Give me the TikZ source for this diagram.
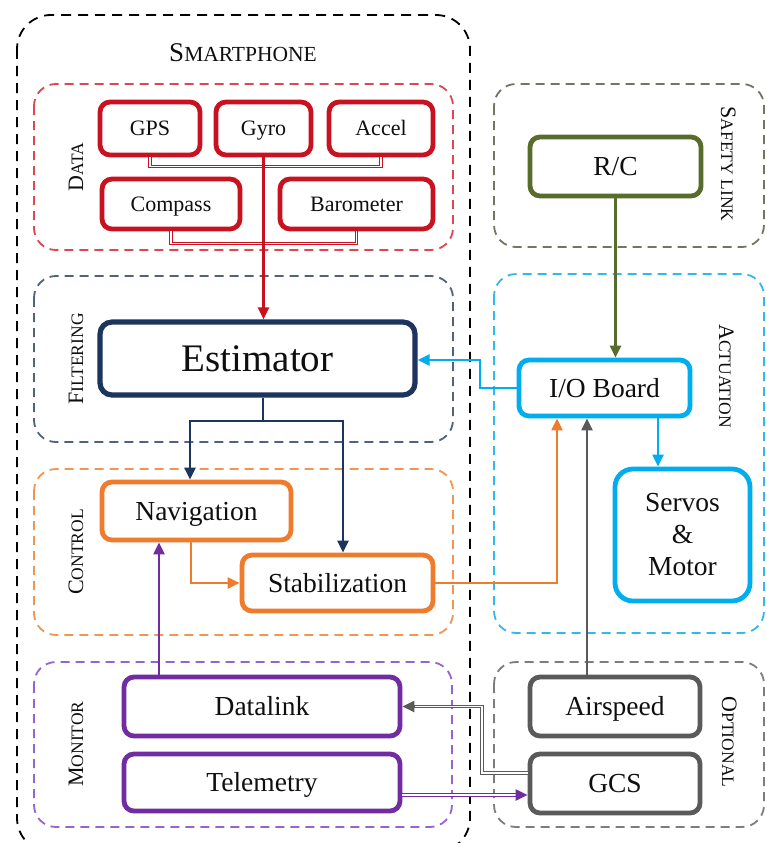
\documentclass[tikz,border=0pt]{standalone}
\usepackage{fontspec}
\setmainfont{Liberation Serif}
\usetikzlibrary{arrows.meta}

\definecolor{datared}{RGB}{200,18,32}
\definecolor{datadash}{RGB}{222,70,80}
\definecolor{estnavy}{RGB}{28,52,94}
\definecolor{filtdash}{RGB}{80,98,125}
\definecolor{ctrlorange}{RGB}{238,124,44}
\definecolor{ctrldash}{RGB}{240,150,80}
\definecolor{monpurple}{RGB}{112,44,160}
\definecolor{mondash}{RGB}{150,100,205}
\definecolor{rcgreen}{RGB}{88,108,44}
\definecolor{safedash}{RGB}{112,118,100}
\definecolor{actblue}{RGB}{0,174,239}
\definecolor{actdash}{RGB}{50,185,235}
\definecolor{optgray}{RGB}{90,90,90}
\definecolor{optdash}{RGB}{125,125,125}
\definecolor{inktext}{RGB}{15,15,15}

% faked small capitals: large initial, smaller remaining capitals
\newcommand\fakesc[2]{{\fontsize{22}{22}\selectfont #1}{\fontsize{17.5}{18}\selectfont #2}}

\tikzset{
  blockbox/.style={draw, rounded corners=10pt, line width=4.8pt, align=center,
    inner sep=0pt, text=inktext, font=\fontsize{27.5}{32}\selectfont},
  % single-line boxes: box height follows the capitals only, so text sits centred
  oneline/.style={text height=18.4pt, text depth=0pt},
  databox/.style={blockbox, draw=datared, font=\fontsize{22}{24}\selectfont,
    text height=14.6pt, text depth=0pt},
  group/.style={line width=1.8pt, rounded corners=22pt, dash pattern=on 9pt off 6pt},
  wire/.style={line width=2.2pt, -{Triangle[length=12pt,width=11pt]}},
  plainwire/.style={line width=2.2pt},
  hollowwire/.style={line width=1pt, double=white, double distance=1.3pt},
  grouplabel/.style={anchor=base, text=inktext, inner sep=0pt},
}

\begin{document}
\begin{tikzpicture}[x=1pt, y=-1pt]
\useasboundingbox (0,0) rectangle (767,843);
\clip (0,0) rectangle (767,843);
\fill[white] (0,0) rectangle (767,843);

% ---------- dashed groups ----------
\draw[group, draw=black, rounded corners=34pt, dash pattern=on 10pt off 7pt] (17,15) rectangle (470,852);
\draw[group, draw=datadash] (34,84) rectangle (453,250);
\draw[group, draw=filtdash] (34,276) rectangle (453,442);
\draw[group, draw=ctrldash] (34,469) rectangle (453,635);
\draw[group, draw=mondash] (34,662) rectangle (452,827);
\draw[group, draw=safedash] (494,84) rectangle (764,247);
\draw[group, draw=actdash] (494,274) rectangle (764,633);
\draw[group, draw=optdash] (494,662) rectangle (764,827);

% ---------- group labels ----------
\node[grouplabel] (lblphone) at (243,62)
  {{\fontsize{27}{27}\selectfont S}{\fontsize{21.5}{22}\selectfont MARTPHONE}};
\node[grouplabel, rotate=90] (lbldata) at (83,167) {\fakesc{D}{ATA}};
\node[grouplabel, rotate=90] (lblfilt) at (83,359) {\fakesc{F}{ILTERING}};
\node[grouplabel, rotate=90] (lblctrl) at (83,552) {\fakesc{C}{ONTROL}};
\node[grouplabel, rotate=90] (lblmon) at (83,744) {\fakesc{M}{ONITOR}};
\node[grouplabel, rotate=-90] (lblsafe) at (721,164) {\fakesc{S}{AFETY L}\fakesc{}{INK}};
\node[grouplabel, rotate=-90] (lblact) at (719,376) {\fakesc{A}{CTUATION}};
\node[grouplabel, rotate=-90] (lblopt) at (722,742) {\fakesc{O}{PTIONAL}};

% ---------- sensor data ----------
\node[databox, minimum width=100pt, minimum height=53pt] (gps) at (150,128.5) {GPS};
\node[databox, minimum width=95pt, minimum height=53pt] (gyro) at (263.5,128.5) {Gyro};
\node[databox, minimum width=104pt, minimum height=53pt] (accel) at (381,128.5) {Accel};
\node[databox, minimum width=138pt, minimum height=50pt] (compass) at (171,204) {Compass};
\node[databox, minimum width=153pt, minimum height=50pt] (baro) at (356.5,204) {Barometer};

% ---------- processing blocks ----------
\node[blockbox, draw=estnavy, line width=5.2pt, rounded corners=12pt,
  minimum width=315pt, minimum height=73pt, font=\fontsize{39}{42}\selectfont,
  text height=26pt, text depth=0pt]
  (est) at (257.5,358.5) {Estimator};
\node[blockbox, oneline, draw=ctrlorange, minimum width=189pt, minimum height=58pt] (nav) at (196.5,511) {Navigation};
\node[blockbox, oneline, draw=ctrlorange, minimum width=191pt, minimum height=56pt] (stab) at (337.5,583) {Stabilization};
\node[blockbox, oneline, draw=monpurple, minimum width=276pt, minimum height=59pt] (dl) at (262,706.5) {Datalink};
\node[blockbox, oneline, draw=monpurple, minimum width=276pt, minimum height=57pt] (tel) at (262,782.5) {Telemetry};

% ---------- right-hand hardware ----------
\node[blockbox, oneline, draw=rcgreen, minimum width=171pt, minimum height=59pt] (rc) at (615.5,166.5) {R/C};
\node[blockbox, oneline, draw=actblue, minimum width=171pt, minimum height=56pt] (io) at (604.5,388) {I/O Board};
\node[blockbox, draw=actblue, rounded corners=18pt, minimum width=135pt, minimum height=132pt,
  font=\fontsize{27.5}{32}\selectfont] (servo) at (682.5,535) {Servos\\\&\\Motor};
\node[blockbox, oneline, draw=optgray, minimum width=170pt, minimum height=59pt] (air) at (615,706.5) {Airspeed};
\node[blockbox, oneline, draw=optgray, minimum width=170pt, minimum height=59pt] (gcs) at (615,783.5) {GCS};

% ---------- connector bend points ----------
\coordinate (split) at (263,421);
\coordinate (splitl) at (190,421);
\coordinate (splitr) at (343,421);
\coordinate (navdrop) at (191,583);
\coordinate (stabout) at (557,583);
\coordinate (iobend) at (480,360);
\coordinate (servox) at (658,0);
\coordinate (airx) at (587,0);
\coordinate (dlx) at (159,0);
\coordinate (gcsbend) at (482,773);
\coordinate (tely) at (0,795);

% ---------- sensor bus ----------
\draw[hollowwire, draw=datared] (gps.south) -- ++(0,9) -| (accel.south);
\draw[hollowwire, draw=datared] (compass.south) -- ++(0,12) -| (baro.south);
\draw[wire, draw=datared] (gyro.south) -- (gyro.south |- est.north);

% ---------- estimator outputs ----------
\draw[plainwire, draw=estnavy] (split |- est.south) -- (split);
\draw[wire, draw=estnavy] (splitr) -- (splitl) -- (splitl |- nav.north);
\draw[wire, draw=estnavy] (split) -- (splitr) -- (splitr |- stab.north);

% ---------- control chain ----------
\draw[wire, draw=ctrlorange] (navdrop |- nav.south) -- (navdrop) -- (stab.west |- navdrop);
\draw[wire, draw=ctrlorange] (stab.east |- stabout) -- (stabout) -- (stabout |- io.south);

% ---------- actuation ----------
\draw[wire, draw=actblue] (io.west) -| (iobend) -- (est.east |- iobend);
\draw[wire, draw=rcgreen] (rc.south) -- (rc.south |- io.north);
\draw[wire, draw=actblue] (io.south -| servox) -- (servo.north -| servox);
\draw[wire, draw=optgray] (air.north -| airx) -- (io.south -| airx);

% ---------- monitoring links ----------
\draw[wire, draw=monpurple] (dl.north -| dlx) -- (nav.south -| dlx);
\draw[hollowwire, draw=optgray] (gcs.west |- gcsbend) -- (gcsbend) -- (gcsbend |- dl.east) -- ([xshift=11pt]dl.east);
\draw[wire, draw=optgray] ([xshift=12pt]dl.east) -- (dl.east);
\draw[hollowwire, draw=monpurple] (tel.east |- tely) -- ([xshift=-11pt]gcs.west |- tely);
\draw[wire, draw=monpurple] ([xshift=-12pt]gcs.west |- tely) -- (gcs.west |- tely);

\end{tikzpicture}
\end{document}
